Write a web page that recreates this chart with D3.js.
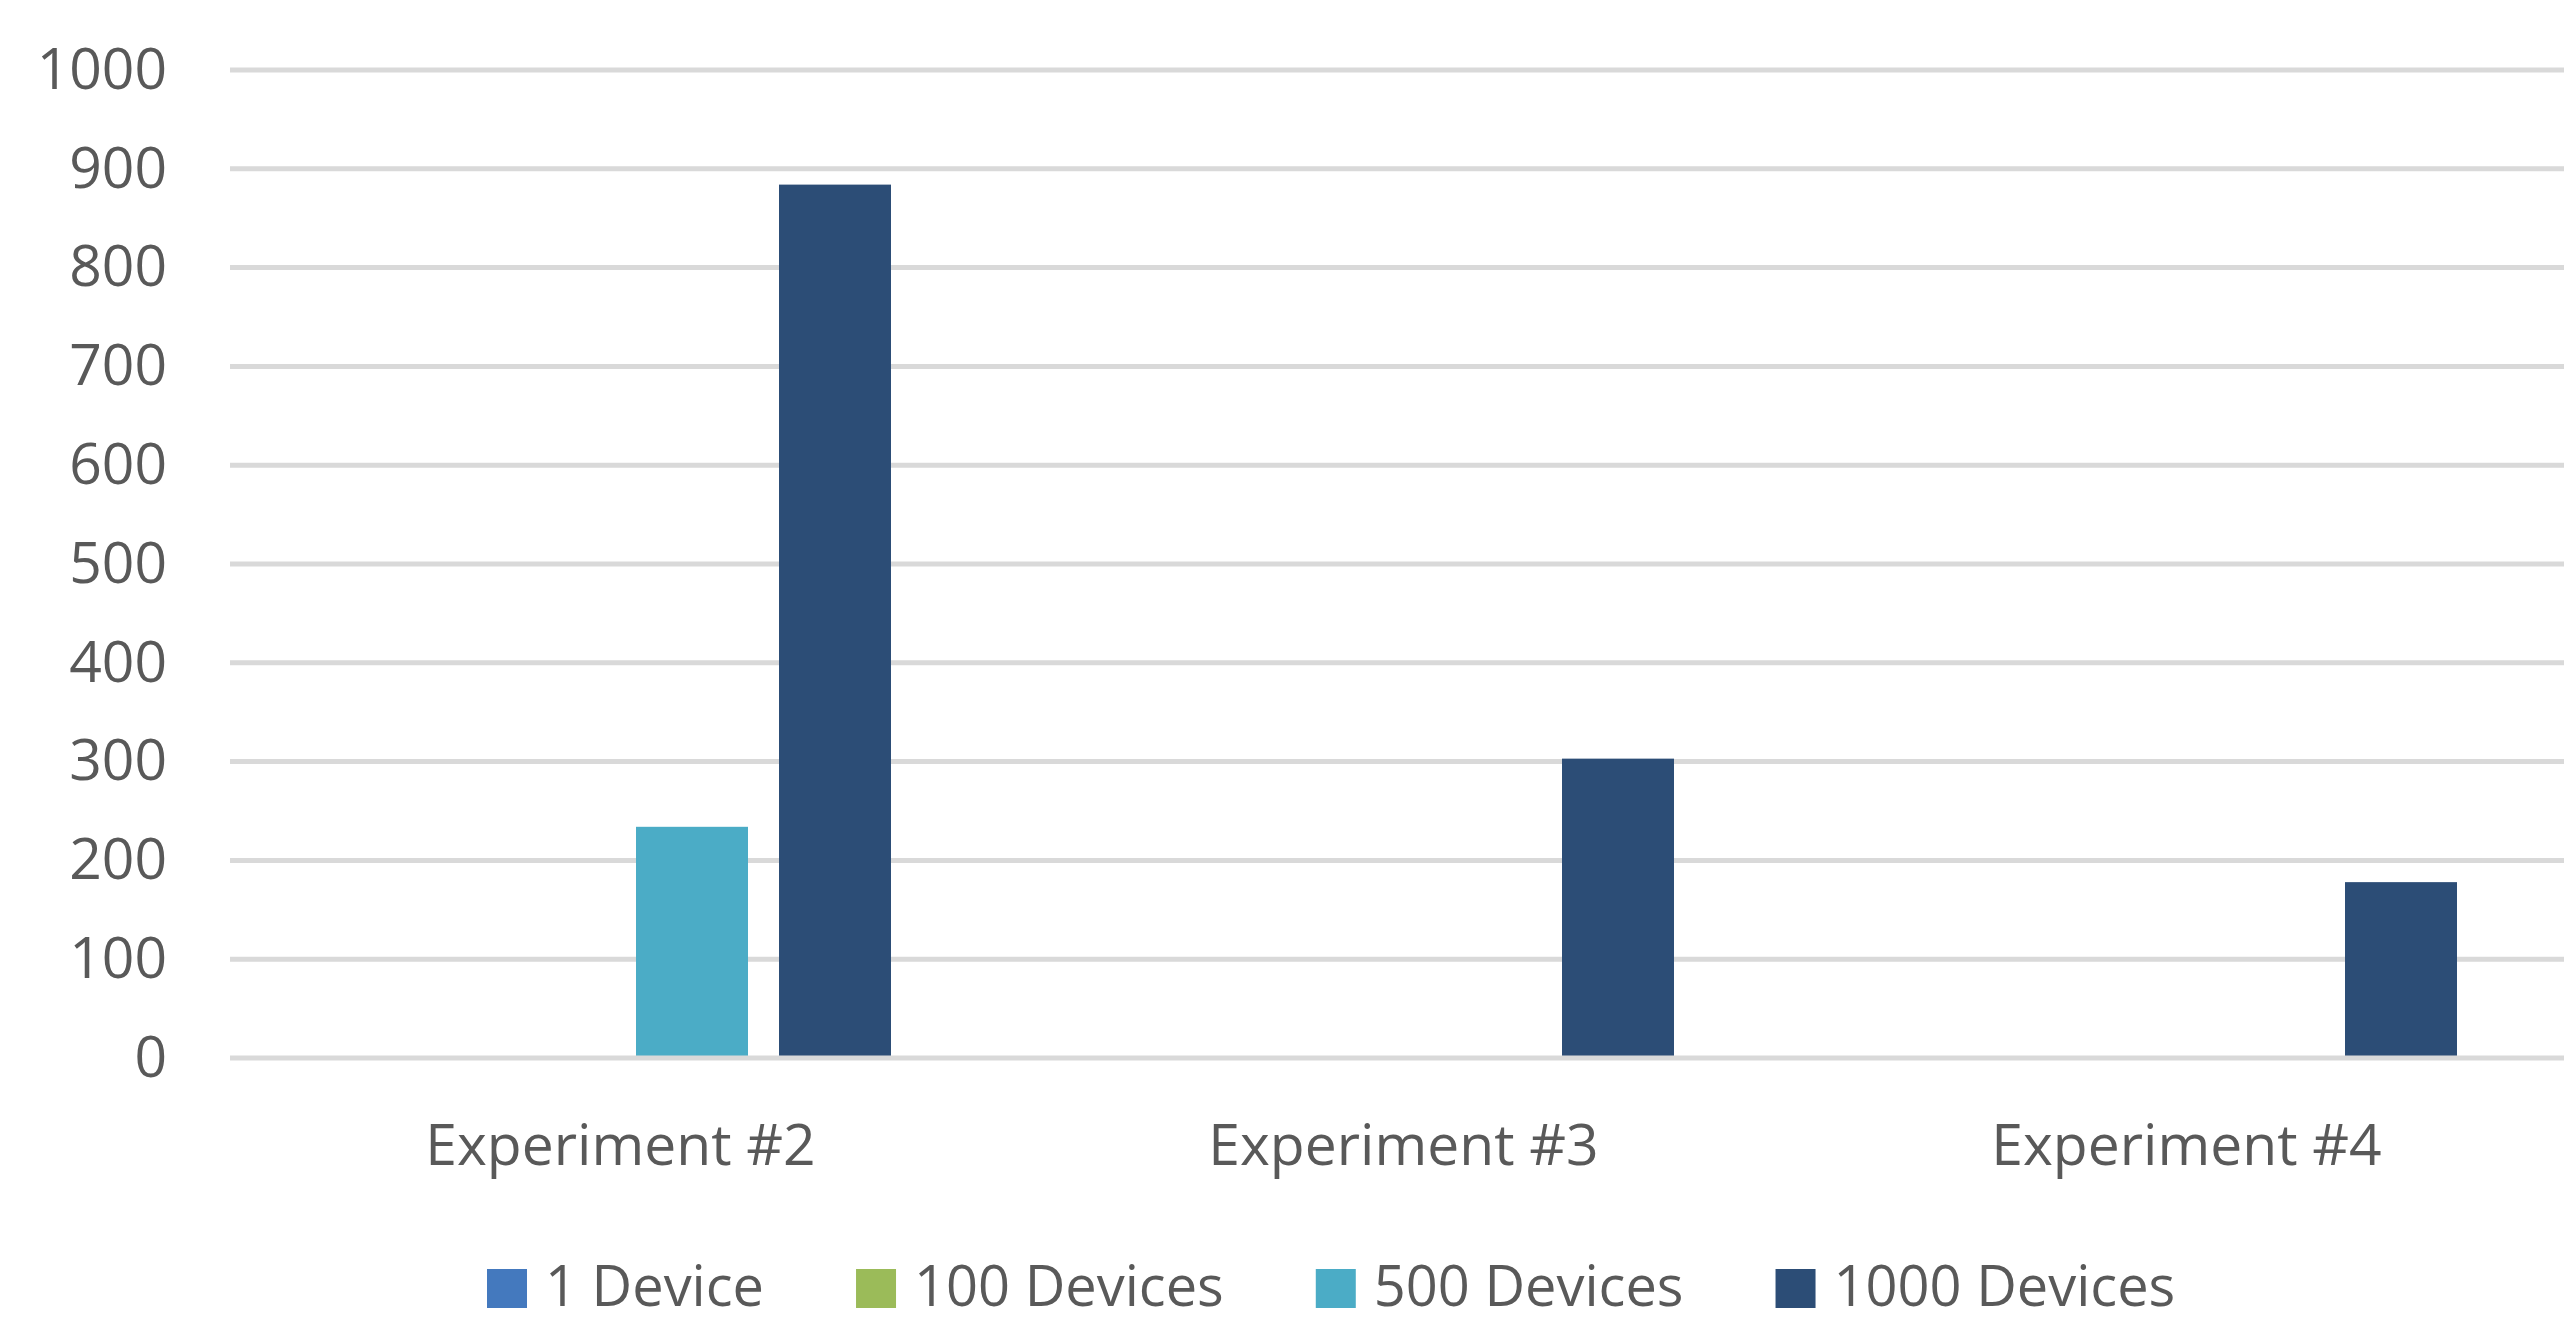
<!DOCTYPE html>
<html>
<head>
<meta charset="utf-8">
<script src="https://cdn.jsdelivr.net/npm/d3@7"></script>
<style>
  html, body { margin: 0; padding: 0; background: #ffffff; }
  svg { display: block; }
  text { font-family: "Open Sans", "Segoe UI", sans-serif; fill: #595959; }
</style>
</head>
<body>
<svg id="chart" width="2564" height="1325"></svg>
<script>
// ---- data ----
const categories = ["Experiment #2", "Experiment #3", "Experiment #4"];
const seriesNames = ["1 Device", "100 Devices", "500 Devices", "1000 Devices"];
const seriesColors = ["#4479BE", "#9BBB59", "#4BACC6", "#2C4D76"];
const values1Device = [0, 0, 0];
const values100Devices = [0, 0, 0];
const values500Devices = [234, 0, 0];
const values1000Devices = [884, 303, 178];
const yTicks = [0, 100, 200, 300, 400, 500, 600, 700, 800, 900, 1000];

const seriesValues = [values1Device, values100Devices, values500Devices, values1000Devices];

// ---- layout ----
const W = 2564, H = 1325;
const plotLeft = 229, plotRight = 2578, plotTop = 70, plotBottom = 1058;
const svg = d3.select("#chart");

const y = d3.scaleLinear().domain([0, 1000]).range([plotBottom, plotTop]);
const x0 = d3.scaleBand().domain(categories).range([plotLeft, plotRight]).paddingInner(0).paddingOuter(0);
const groupInset = 121;
const x1 = d3.scaleBand().domain(seriesNames)
  .range([groupInset, x0.bandwidth() - groupInset])
  .paddingInner(31 / 143).paddingOuter(0);

// gridlines
svg.append("g").selectAll("line").data(yTicks.filter(d => d !== 0)).join("line")
  .attr("x1", plotLeft + 1).attr("x2", W)
  .attr("y1", d => y(d)).attr("y2", d => y(d))
  .attr("stroke", "#d9d9d9").attr("stroke-width", 5);

// y tick labels via axis
const yAxis = svg.append("g").attr("transform", `translate(${plotLeft - 62},0)`)
  .call(d3.axisLeft(y).tickValues(yTicks).tickFormat(d3.format("d")).tickSize(0).tickPadding(0));
yAxis.select(".domain").remove();
yAxis.selectAll("text")
  .attr("font-size", 57).attr("font-family", '"Open Sans", sans-serif')
  .attr("fill", "#595959").attr("dy", "0.32em");

// bars
const groups = svg.append("g").selectAll("g").data(categories).join("g")
  .attr("transform", d => `translate(${x0(d)},0)`);
groups.selectAll("rect")
  .data((c, ci) => seriesNames.map((s, si) => ({ s, si, v: seriesValues[si][ci] })))
  .join("rect")
  .attr("x", d => x1(d.s))
  .attr("width", x1.bandwidth())
  .attr("y", d => y(d.v))
  .attr("height", d => y(0) - y(d.v))
  .attr("fill", d => seriesColors[d.si]);

// baseline
svg.append("line")
  .attr("x1", plotLeft + 1).attr("x2", W)
  .attr("y1", y(0)).attr("y2", y(0))
  .attr("stroke", "#d9d9d9").attr("stroke-width", 5);

// category labels
const xAxis = svg.append("g").attr("transform", `translate(0,${plotBottom})`)
  .call(d3.axisBottom(x0).tickSize(0).tickPadding(0));
xAxis.select(".domain").remove();
xAxis.selectAll("text")
  .attr("font-size", 57).attr("font-family", '"Open Sans", sans-serif')
  .attr("fill", "#595959").attr("dy", 0).attr("y", 107);

// legend
const legend = svg.append("g");
let lx = 487;
seriesNames.forEach((name, i) => {
  const g = legend.append("g");
  g.append("rect").attr("x", lx).attr("y", 1269).attr("width", 40).attr("height", 39)
    .attr("fill", seriesColors[i]);
  const t = g.append("text").attr("x", lx + 58).attr("y", 1306)
    .attr("font-size", 56).text(name);
  lx = lx + 58 + t.node().getComputedTextLength() + 92;
});
</script>
</body>
</html>
